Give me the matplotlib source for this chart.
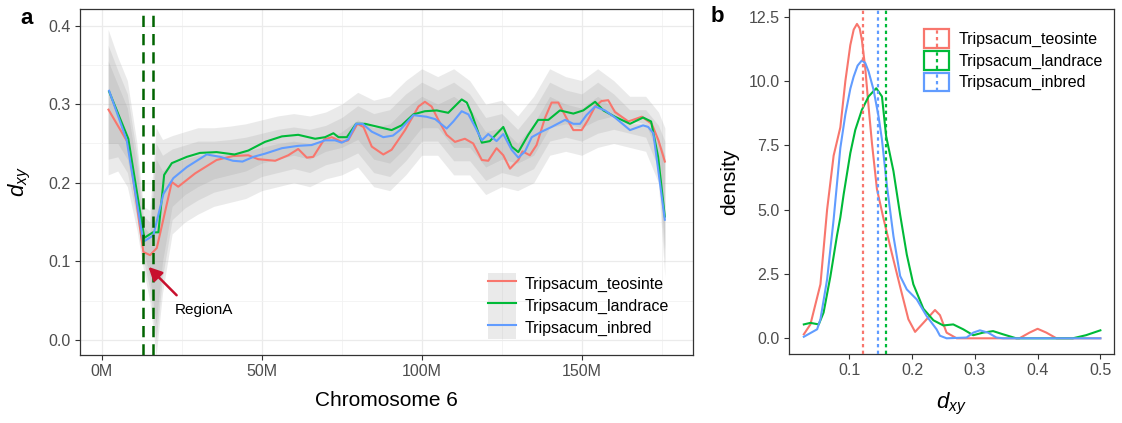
import matplotlib
matplotlib.use('Agg')
import matplotlib.pyplot as plt
from matplotlib.lines import Line2D
from matplotlib.patches import Patch, Rectangle
from matplotlib.legend_handler import HandlerBase, HandlerTuple

plt.rcParams['font.family'] = ['Liberation Sans', 'DejaVu Sans']
plt.rcParams['mathtext.fontset'] = 'custom'
plt.rcParams['mathtext.it'] = 'Liberation Sans:italic'
plt.rcParams['mathtext.rm'] = 'Liberation Sans'

# ---------------- data : panel a (dxy along chromosome 6, Mb) ----------------
labels = ['Tripsacum_teosinte', 'Tripsacum_landrace', 'Tripsacum_inbred']
colors = ['#F8766D', '#00BA38', '#619CFF']

teo_x = [2.1, 8.3, 13.0, 15.1, 17.2, 21.9, 23.9, 29.2, 35.9, 41.0, 45.8, 48.9, 54.2, 58.3,
         61.4, 64.1, 66.1, 69.5, 71.9, 75.0, 77.0, 79.9, 81.8, 84.4, 88.0, 90.6, 94.8, 99.0,
         101.0, 103.1, 105.2, 107.8, 110.4, 113.5, 116.1, 118.8, 120.8, 123.4, 125.5, 127.6,
         130.2, 131.5, 133.8, 135.9, 138.5, 140.6, 142.7, 145.3, 147.4, 150.0, 152.0, 154.2,
         156.2, 158.3, 160.4, 164.6, 168.8, 171.9, 174.0, 176.0]
teo_y = [0.293, 0.250, 0.112, 0.108, 0.117, 0.201, 0.195, 0.212, 0.229, 0.234, 0.235, 0.230,
         0.228, 0.235, 0.243, 0.232, 0.233, 0.255, 0.258, 0.252, 0.254, 0.275, 0.271, 0.246,
         0.236, 0.242, 0.267, 0.297, 0.303, 0.297, 0.280, 0.261, 0.252, 0.256, 0.250, 0.229,
         0.228, 0.244, 0.235, 0.218, 0.229, 0.240, 0.235, 0.248, 0.282, 0.302, 0.302, 0.282,
         0.267, 0.267, 0.280, 0.297, 0.304, 0.305, 0.290, 0.278, 0.284, 0.275, 0.254, 0.227]

lan_x = [2.3, 8.3, 13.3, 16.0, 17.7, 19.5, 21.9, 26.6, 30.7, 35.9, 41.5, 45.8, 51.0, 56.3,
         61.4, 66.7, 69.8, 72.4, 74.0, 76.6, 79.5, 82.3, 86.5, 90.6, 93.7, 97.4, 101.0, 104.7,
         108.3, 112.5, 114.1, 115.6, 118.8, 121.3, 125.5, 128.1, 130.2, 133.3, 136.4, 139.6,
         143.2, 147.4, 150.5, 154.2, 156.8, 160.4, 165.1, 169.2, 171.7, 173.9, 176.0]
lan_y = [0.316, 0.256, 0.130, 0.137, 0.137, 0.210, 0.225, 0.233, 0.238, 0.239, 0.236, 0.241,
         0.252, 0.259, 0.261, 0.256, 0.258, 0.263, 0.258, 0.258, 0.275, 0.275, 0.271, 0.267,
         0.273, 0.287, 0.291, 0.292, 0.289, 0.306, 0.302, 0.288, 0.251, 0.253, 0.271, 0.246,
         0.239, 0.261, 0.280, 0.280, 0.292, 0.288, 0.292, 0.303, 0.292, 0.284, 0.275, 0.283,
         0.278, 0.233, 0.157]

inb_x = [2.3, 7.8, 13.0, 16.1, 19.3, 22.4, 26.6, 32.8, 37.0, 41.0, 44.0, 47.4, 51.0, 56.3,
         61.4, 65.6, 69.8, 72.9, 75.0, 77.0, 79.5, 81.5, 84.4, 88.0, 91.0, 93.2, 97.4, 101.5,
         104.2, 107.8, 109.9, 112.5, 114.6, 116.7, 118.8, 120.8, 123.4, 125.5, 128.1, 130.2,
         132.3, 134.4, 137.5, 140.6, 144.8, 147.4, 149.5, 151.5, 154.2, 157.3, 160.4, 165.1,
         169.2, 170.8, 172.4, 176.0]
inb_y = [0.317, 0.254, 0.125, 0.133, 0.186, 0.206, 0.220, 0.236, 0.233, 0.228, 0.227, 0.233,
         0.237, 0.244, 0.247, 0.248, 0.254, 0.254, 0.251, 0.255, 0.275, 0.275, 0.265, 0.258,
         0.260, 0.267, 0.286, 0.284, 0.281, 0.269, 0.278, 0.291, 0.287, 0.271, 0.254, 0.262,
         0.253, 0.262, 0.242, 0.232, 0.240, 0.258, 0.265, 0.271, 0.280, 0.275, 0.275, 0.286,
         0.297, 0.292, 0.283, 0.267, 0.273, 0.271, 0.263, 0.153]

# grey ribbons (one per group)
rib_x = [2, 5, 8, 11, 13, 15, 17, 19, 22, 26, 30, 35, 40, 45, 50, 55, 60, 65, 70, 75, 80, 85,
         90, 95, 100, 105, 110, 115, 120, 125, 130, 135, 140, 145, 150, 155, 160, 165, 170, 174, 176]
teo_lo = [0.21, 0.215, 0.195, 0.14, 0.09, 0.05, -0.02, 0.06, 0.135, 0.15, 0.16, 0.17, 0.175, 0.18,
          0.19, 0.195, 0.2, 0.195, 0.205, 0.21, 0.22, 0.195, 0.19, 0.21, 0.235, 0.235, 0.21, 0.21,
          0.185, 0.195, 0.19, 0.2, 0.235, 0.24, 0.235, 0.245, 0.25, 0.245, 0.24, 0.2, 0.08]
teo_hi = [0.355, 0.325, 0.295, 0.22, 0.145, 0.135, 0.23, 0.215, 0.225, 0.23, 0.235, 0.235, 0.237,
          0.24, 0.245, 0.25, 0.253, 0.25, 0.255, 0.265, 0.28, 0.27, 0.275, 0.295, 0.31, 0.3, 0.31,
          0.295, 0.265, 0.27, 0.25, 0.275, 0.31, 0.3, 0.295, 0.31, 0.295, 0.275, 0.275, 0.255, 0.235]
lan_lo = [0.25, 0.25, 0.23, 0.17, 0.115, 0.08, 0.02, 0.1, 0.17, 0.185, 0.195, 0.205, 0.21, 0.215,
          0.225, 0.23, 0.235, 0.23, 0.24, 0.245, 0.255, 0.23, 0.225, 0.245, 0.27, 0.27, 0.245, 0.245,
          0.22, 0.23, 0.225, 0.235, 0.27, 0.275, 0.27, 0.28, 0.285, 0.28, 0.275, 0.235, 0.115]
lan_hi = [0.395, 0.36, 0.33, 0.25, 0.17, 0.165, 0.27, 0.255, 0.26, 0.265, 0.27, 0.27, 0.272, 0.275,
          0.28, 0.285, 0.288, 0.285, 0.29, 0.3, 0.315, 0.305, 0.31, 0.33, 0.345, 0.335, 0.345, 0.33,
          0.3, 0.305, 0.285, 0.31, 0.345, 0.335, 0.33, 0.345, 0.33, 0.31, 0.31, 0.29, 0.27]
inb_lo = [0.23, 0.233, 0.213, 0.155, 0.103, 0.065, 0.0, 0.08, 0.153, 0.168, 0.178, 0.188, 0.193,
          0.198, 0.208, 0.213, 0.218, 0.213, 0.223, 0.228, 0.238, 0.213, 0.208, 0.228, 0.253, 0.253,
          0.228, 0.228, 0.203, 0.213, 0.208, 0.218, 0.253, 0.258, 0.253, 0.263, 0.268, 0.263, 0.258,
          0.218, 0.098]
inb_hi = [0.375, 0.343, 0.313, 0.235, 0.158, 0.15, 0.25, 0.235, 0.243, 0.248, 0.253, 0.253, 0.255,
          0.258, 0.263, 0.268, 0.271, 0.268, 0.273, 0.283, 0.298, 0.288, 0.293, 0.313, 0.328, 0.318,
          0.328, 0.313, 0.283, 0.288, 0.268, 0.293, 0.328, 0.318, 0.313, 0.328, 0.313, 0.293, 0.293,
          0.273, 0.253]

regionA_bounds = [12.8, 16.1]

# ---------------- data : panel b (density of dxy) ----------------
teo_dx = [0.0275, 0.038, 0.054, 0.0646, 0.075, 0.0857, 0.0937, 0.1016, 0.107, 0.1122, 0.1165,
          0.120, 0.1254, 0.1307, 0.136, 0.144, 0.1545, 0.1678, 0.181, 0.1941, 0.2048, 0.218,
          0.2365, 0.2444, 0.255, 0.271, 0.371, 0.387, 0.400, 0.414, 0.430, 0.500]
teo_dy = [0.155, 0.54, 2.1, 5.0, 7.1, 8.2, 10.0, 11.4, 12.0, 12.22, 12.05, 11.6, 10.5, 9.0,
          7.6, 5.8, 4.65, 3.3, 2.0, 0.74, 0.25, 0.6, 1.1, 0.9, 0.22, 0.0, 0.0, 0.22, 0.37, 0.22,
          0.0, 0.0]
lan_dx = [0.0275, 0.038, 0.0513, 0.059, 0.0698, 0.0804, 0.0857, 0.091, 0.1016, 0.1095, 0.120,
          0.1307, 0.1429, 0.152, 0.1587, 0.1703, 0.181, 0.1916, 0.202, 0.218, 0.234, 0.2497,
          0.2656, 0.2815, 0.2974, 0.313, 0.329, 0.345, 0.366, 0.456, 0.477, 0.500]
lan_dy = [0.54, 0.6, 0.54, 1.0, 2.4, 4.0, 4.7, 5.6, 7.2, 8.1, 8.88, 9.4, 9.72, 9.4, 7.85, 6.5,
          4.8, 3.25, 2.1, 1.15, 0.7, 0.5, 0.54, 0.35, 0.12, 0.22, 0.28, 0.155, 0.0, 0.0, 0.12, 0.31]
inb_dx = [0.0275, 0.0487, 0.054, 0.0646, 0.075, 0.0857, 0.0937, 0.1016, 0.1069, 0.1132, 0.120,
          0.1254, 0.1307, 0.1386, 0.1466, 0.152, 0.160, 0.1703, 0.181, 0.1916, 0.2075, 0.223,
          0.239, 0.2444, 0.255, 0.2868, 0.2974, 0.308, 0.321, 0.3344, 0.345, 0.500]
inb_dy = [0.06, 0.35, 0.74, 2.29, 4.62, 7.4, 8.7, 9.7, 10.17, 10.6, 10.8, 10.7, 10.37, 9.66,
          8.62, 7.72, 5.91, 3.97, 2.42, 1.9, 1.51, 0.87, 0.35, 0.1, 0.0, 0.03, 0.22, 0.31, 0.22,
          0.03, 0.0, 0.0]
means = [0.1211, 0.1577, 0.1455]

# ---------------- figure ----------------
W, H = 1122, 423
fig = plt.figure(figsize=(W / 100, H / 100), dpi=100)


def px_axes(l, t, r, b):
    return fig.add_axes([l / W, 1 - b / H, (r - l) / W, (b - t) / H])


axA = px_axes(80, 9, 693, 355)
axB = px_axes(789, 9, 1114, 354)

tick_col = '#4D4D4D'
border = '#333333'
for ax in (axA, axB):
    for s in ax.spines.values():
        s.set_color(border)
        s.set_linewidth(0.9)
    ax.tick_params(which='major', direction='out', length=3.8, width=0.8, color=border,
                   labelcolor=tick_col, labelsize=11.5, pad=3)
    ax.tick_params(which='minor', length=0)

# ---- panel a ----
axA.set_axisbelow(True)
for lo, hi in [(teo_lo, teo_hi), (lan_lo, lan_hi), (inb_lo, inb_hi)]:
    axA.fill_between(rib_x, lo, hi, color='#999999', alpha=0.2, lw=0, zorder=1)

series = [(teo_x, teo_y), (lan_x, lan_y), (inb_x, inb_y)]
for (xs, ys), c in zip(series, colors):
    axA.plot(xs, ys, color=c, lw=1.5, zorder=3, solid_joinstyle='round')

for b in regionA_bounds:
    axA.axvline(b, color='#006400', lw=1.8, ls=(0, (4.5, 2.8)), zorder=4)

axA.annotate('', xy=(14.6, 0.093), xytext=(23.4, 0.057),
             arrowprops=dict(arrowstyle='-|>', color='#C8102E', lw=1.8, mutation_scale=20,
                             shrinkA=0, shrinkB=0), zorder=5)
axA.text(22.9, 0.038, 'RegionA', fontsize=11, ha='left', va='center', color='black')

axA.set_xlim(-6.8, 184.8)
axA.set_ylim(-0.019, 0.421)
axA.set_xticks([0, 50, 100, 150])
axA.set_xticklabels(['0M', '50M', '100M', '150M'])
axA.set_xticks([25, 75, 125, 175], minor=True)
axA.set_yticks([0.0, 0.1, 0.2, 0.3, 0.4])
axA.set_yticklabels(['0.0', '0.1', '0.2', '0.3', '0.4'])
axA.set_yticks([0.05, 0.15, 0.25, 0.35], minor=True)
axA.grid(which='major', color='#EBEBEB', lw=0.9)
axA.grid(which='minor', color='#F2F2F2', lw=0.6)

hA = [(Patch(facecolor='#999999', alpha=0.2, edgecolor='none'), Line2D([], [], color=c, lw=1.5))
      for c in colors]
fsA = 11.5
legA = axA.legend(hA, labels, handler_map={tuple: HandlerTuple(ndivide=1)},
                  loc='lower left', bbox_to_anchor=((488 - 80) / 613, (355 - 339) / 346),
                  frameon=False, fontsize=fsA, handlelength=1.75, handleheight=1.75,
                  labelspacing=0.0, handletextpad=0.55, borderpad=0, borderaxespad=0)

# ---- panel b ----
dens = [(teo_dx, teo_dy), (lan_dx, lan_dy), (inb_dx, inb_dy)]
for (xs, ys), c in zip(dens, colors):
    axB.plot(xs, ys, color=c, lw=1.5, zorder=3, solid_joinstyle='round')
for m, c in zip(means, colors):
    axB.axvline(m, color=c, lw=1.6, ls=(0, (1.5, 1.5)), zorder=4)

axB.set_xlim(0.0039, 0.5217)
axB.set_ylim(-0.61, 12.8)
axB.set_xticks([0.1, 0.2, 0.3, 0.4, 0.5])
axB.set_xticklabels(['0.1', '0.2', '0.3', '0.4', '0.5'])
axB.set_yticks([0.0, 2.5, 5.0, 7.5, 10.0, 12.5])
axB.set_yticklabels(['0.0', '2.5', '5.0', '7.5', '10.0', '12.5'])


class BoxVLineHandler(HandlerBase):
    def create_artists(self, legend, orig_handle, xdescent, ydescent, width, height,
                       fontsize, trans):
        c = orig_handle.get_color()
        r = Rectangle((-xdescent + 1, -ydescent + 1), width - 2, height - 2, facecolor='white',
                      edgecolor=c, lw=1.6, transform=trans)
        ln = Line2D([-xdescent + width / 2] * 2, [-ydescent + 1.5, -ydescent + height - 1.5],
                    color=c, lw=1.6, ls=(0, (1.5, 1.5)), transform=trans)
        return [r, ln]


hB = [Line2D([], [], color=c) for c in colors]
legB = axB.legend(hB, labels, handler_map={Line2D: BoxVLineHandler()},
                  loc='upper left', bbox_to_anchor=((923 - 789) / 325, 1 - (28 - 9) / 345),
                  frameon=False, fontsize=fsA, handlelength=1.7, handleheight=1.7,
                  labelspacing=0.0, handletextpad=0.5, borderpad=0, borderaxespad=0)

# ---- titles and panel letters ----
fig.text(20 / W, 1 - 182 / H, r'$d_{xy}$', rotation=90, fontsize=16, ha='center', va='center')
fig.text(386.5 / W, 1 - 400 / H, 'Chromosome 6', fontsize=15, ha='center', va='center')
fig.text(730 / W, 1 - 182 / H, 'density', rotation=90, fontsize=15, ha='center', va='center')
fig.text(951.5 / W, 1 - 404 / H, r'$d_{xy}$', fontsize=16, ha='center', va='center')
fig.text(27 / W, 1 - 18 / H, 'a', fontsize=16, fontweight='bold', ha='center', va='center')
fig.text(717 / W, 1 - 17 / H, 'b', fontsize=16, fontweight='bold', ha='center', va='center')

fig.savefig('out.png', dpi=100)
